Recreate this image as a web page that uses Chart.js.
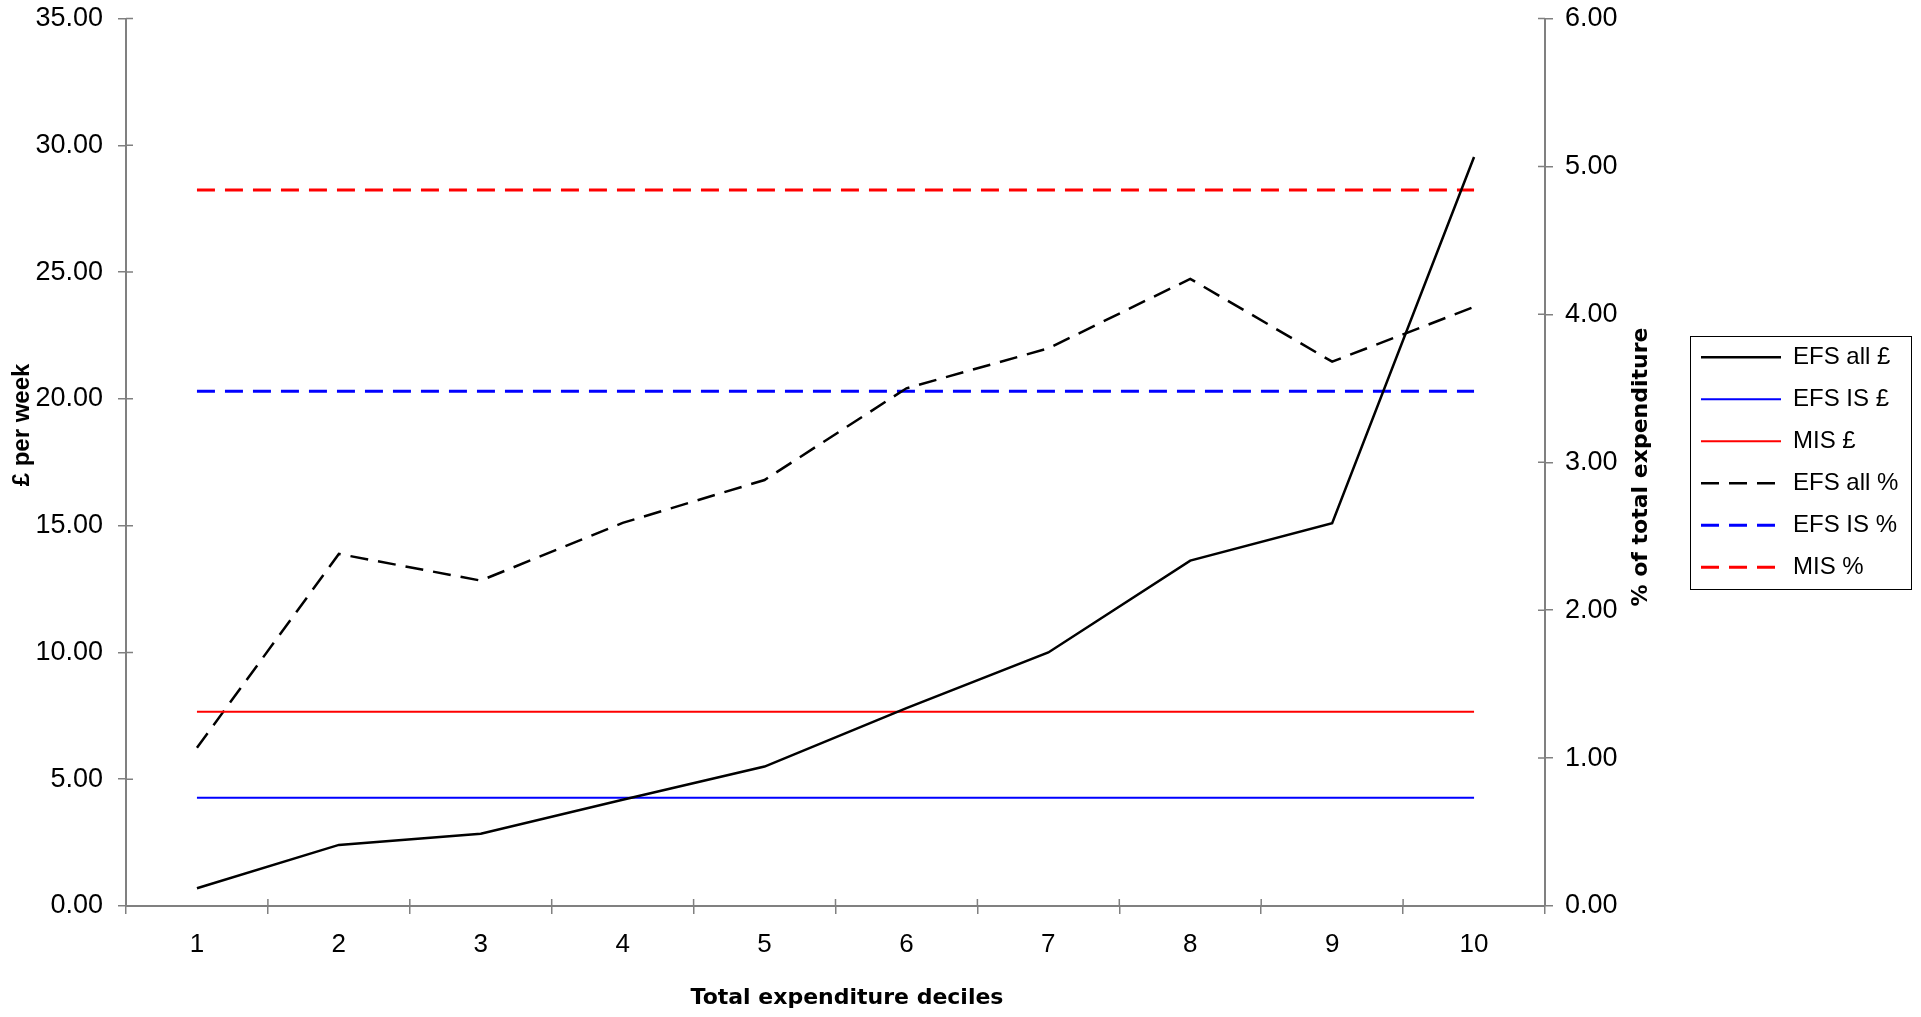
<!DOCTYPE html>
<html>
<head>
<meta charset="utf-8">
<title>Expenditure deciles</title>
<script src="https://cdn.jsdelivr.net/npm/chart.js@4.4.1/dist/chart.umd.min.js"></script>
<style>
  html, body { margin: 0; padding: 0; background: #fff; overflow: hidden; }
  #wrap { width: 1921px; height: 1017px; position: relative; }
</style>
</head>
<body>
<div id="wrap"><canvas id="decileChart"></canvas></div>
<script>
// ---- data ----
const deciles = ['1', '2', '3', '4', '5', '6', '7', '8', '9', '10'];

const efsAllPounds = [0.70, 2.41, 2.85, 4.19, 5.50, 7.80, 10.00, 13.62, 15.10, 29.54];
const efsIsPounds  = [4.27, 4.27, 4.27, 4.27, 4.27, 4.27, 4.27, 4.27, 4.27, 4.27];
const misPounds    = [7.66, 7.66, 7.66, 7.66, 7.66, 7.66, 7.66, 7.66, 7.66, 7.66];

const efsAllPct = [1.07, 2.38, 2.20, 2.59, 2.88, 3.50, 3.77, 4.24, 3.68, 4.05];
const efsIsPct  = [3.48, 3.48, 3.48, 3.48, 3.48, 3.48, 3.48, 3.48, 3.48, 3.48];
const misPct    = [4.84, 4.84, 4.84, 4.84, 4.84, 4.84, 4.84, 4.84, 4.84, 4.84];

const seriesNames = ['EFS all £', 'EFS IS £', 'MIS £', 'EFS all %', 'EFS IS %', 'MIS %'];

const leftAxisTitle = '£ per week';
const rightAxisTitle = '% of total expenditure';
const xAxisTitle = 'Total expenditure deciles';

// ---- look ----
const AXIS_GREY = '#808080';
const TEXT_FONT = "'Liberation Sans', Arial, sans-serif";
const TITLE_FONT = "bold 22px 'DejaVu Sans', sans-serif";
const LEFT_TITLE_FONT = "bold 24px 'Liberation Sans', Arial, sans-serif";
const DASH = [18, 10];

// legend geometry, measured so the right axis ends where the legend begins
const LEGEND_FONT_SIZE = 24;
const LEGEND_PAD = 18;
const LEGEND_LINE = 80;
const measureCtx = document.createElement('canvas').getContext('2d');
measureCtx.font = LEGEND_FONT_SIZE + 'px ' + TEXT_FONT;
const maxLegendText = Math.max(...seriesNames.map((s) => measureCtx.measureText(s).width));
const legendWidth = LEGEND_PAD + LEGEND_LINE + LEGEND_FONT_SIZE / 2 + maxLegendText + 10;
const RIGHT_AXIS_W = 138;
const padRight = Math.max(0, 1921 - 1545 - RIGHT_AXIS_W - legendWidth);

// inner halves of the tick marks, axis titles and the legend frame
const chartFrame = {
  id: 'chartFrame',
  afterDraw(chart) {
    const { ctx, chartArea: a, scales } = chart;
    ctx.save();
    ctx.strokeStyle = AXIS_GREY;
    ctx.lineWidth = 1.5;
    ctx.beginPath();
    scales.y.ticks.forEach((t, i) => {
      const y = scales.y.getPixelForTick(i);
      ctx.moveTo(a.left, y);
      ctx.lineTo(a.left + 7, y);
    });
    scales.y2.ticks.forEach((t, i) => {
      const y = scales.y2.getPixelForTick(i);
      ctx.moveTo(a.right, y);
      ctx.lineTo(a.right - 7, y);
    });
    const step = (a.right - a.left) / deciles.length;
    for (let i = 0; i <= deciles.length; i++) {
      const x = a.left + i * step;
      ctx.moveTo(x, a.bottom);
      ctx.lineTo(x, a.bottom - 7);
    }
    ctx.stroke();

    // axis titles
    ctx.fillStyle = '#000';
    ctx.font = TITLE_FONT;
    ctx.textAlign = 'center';
    ctx.textBaseline = 'middle';
    ctx.fillText(xAxisTitle, 847, 998);

    ctx.save();
    ctx.translate(1641, 467);
    ctx.rotate(-Math.PI / 2);
    ctx.fillText(rightAxisTitle, 0, 0);
    ctx.restore();

    ctx.save();
    ctx.font = LEFT_TITLE_FONT;
    ctx.translate(22, 425);
    ctx.rotate(-Math.PI / 2);
    ctx.fillText(leftAxisTitle, 0, 0);
    ctx.restore();

    // legend border
    const hb = chart.legend.legendHitBoxes;
    if (hb && hb.length) {
      const first = hb[0];
      const last = hb[hb.length - 1];
      const left = first.left - 11;
      const top = first.top - 9;
      const bottom = last.top + last.height + 10;
      ctx.strokeStyle = '#000';
      ctx.lineWidth = 1;
      ctx.strokeRect(Math.round(left) + 0.5, Math.round(top) + 0.5, 221, Math.round(bottom - top));
    }
    ctx.restore();
  }
};

function lineSet(label, data, color, axis, dashed) {
  return {
    label: label,
    data: data,
    yAxisID: axis,
    borderColor: color,
    backgroundColor: color,
    borderWidth: dashed ? (color === '#000000' ? 2.5 : 3) : (color === '#000000' ? 2.5 : 2),
    borderDash: dashed ? DASH : [],
    pointRadius: 0,
    pointHoverRadius: 0,
    tension: 0,
    fill: false
  };
}

// the y scales should not push the plot down for their half-height labels
function noVerticalPadding(scale) {
  scale.paddingTop = 0;
  scale.paddingBottom = 0;
}

const ctx = document.getElementById('decileChart').getContext('2d');

new Chart(ctx, {
  type: 'line',
  data: {
    labels: deciles,
    datasets: [
      lineSet(seriesNames[0], efsAllPounds, '#000000', 'y', false),
      lineSet(seriesNames[1], efsIsPounds, '#0000ff', 'y', false),
      lineSet(seriesNames[2], misPounds, '#ff0000', 'y', false),
      lineSet(seriesNames[3], efsAllPct, '#000000', 'y2', true),
      lineSet(seriesNames[4], efsIsPct, '#0000ff', 'y2', true),
      lineSet(seriesNames[5], misPct, '#ff0000', 'y2', true)
    ]
  },
  options: {
    responsive: true,
    maintainAspectRatio: false,
    animation: false,
    layout: {
      padding: { top: 18.5, right: padRight, bottom: 0, left: 0 }
    },
    plugins: {
      tooltip: { enabled: false },
      legend: {
        position: 'right',
        align: 'center',
        fullSize: false,
        labels: {
          usePointStyle: true,
          pointStyle: 'line',
          pointStyleWidth: LEGEND_LINE,
          padding: LEGEND_PAD,
          color: '#000',
          font: { family: TEXT_FONT, size: LEGEND_FONT_SIZE },
          // line samples keep each dataset's own width and dash
          generateLabels: (chart) => chart.data.datasets.map((ds, i) => ({
            text: ds.label,
            fillStyle: ds.borderColor,
            strokeStyle: ds.borderColor,
            lineWidth: ds.borderWidth,
            lineDash: ds.borderDash,
            lineCap: 'butt',
            pointStyle: 'line',
            fontColor: '#000',
            hidden: false,
            datasetIndex: i
          }))
        }
      }
    },
    scales: {
      x: {
        type: 'category',
        offset: true,
        grid: {
          offset: true,
          drawOnChartArea: false,
          drawTicks: true,
          tickLength: 8,
          color: AXIS_GREY,
          lineWidth: 1.5
        },
        border: { color: AXIS_GREY, width: 2 },
        ticks: {
          color: '#000',
          padding: 15,
          maxRotation: 0,
          font: { family: TEXT_FONT, size: 26 }
        },
        afterFit: (scale) => { scale.height = 111; }
      },
      y: {
        position: 'left',
        min: 0,
        max: 35,
        grid: {
          drawOnChartArea: false,
          drawTicks: true,
          tickLength: 8,
          color: AXIS_GREY,
          lineWidth: 1.5
        },
        border: { color: AXIS_GREY, width: 2 },
        ticks: {
          stepSize: 5,
          color: '#000',
          padding: 15,
          font: { family: TEXT_FONT, size: 27 },
          callback: (v) => Number(v).toFixed(2)
        },
        afterFit: (scale) => { scale.width = 126; noVerticalPadding(scale); }
      },
      y2: {
        position: 'right',
        min: 0,
        max: 6,
        grid: {
          drawOnChartArea: false,
          drawTicks: true,
          tickLength: 8,
          color: AXIS_GREY,
          lineWidth: 1.5
        },
        border: { color: AXIS_GREY, width: 2 },
        ticks: {
          stepSize: 1,
          color: '#000',
          padding: 12,
          font: { family: TEXT_FONT, size: 27 },
          callback: (v) => Number(v).toFixed(2)
        },
        afterFit: (scale) => { scale.width = RIGHT_AXIS_W; noVerticalPadding(scale); }
      }
    }
  },
  plugins: [chartFrame]
});
</script>
</body>
</html>
